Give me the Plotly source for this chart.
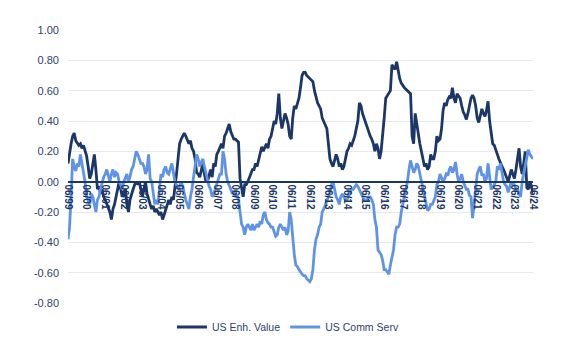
import plotly.graph_objects as go

# Monthly observations, June 1999 .. June 2024 (index 0..300)
enh_value = [
    0.12, 0.20, 0.25, 0.30, 0.32, 0.27, 0.25, 0.24, 0.25, 0.22, 0.24, 0.20,
    0.17, 0.10, 0.02, 0.05, 0.12, 0.18, 0.08, -0.05, -0.03, -0.08, -0.05, -0.10,
    -0.12, -0.15, -0.18, -0.20, -0.25, -0.18, -0.15, -0.10, -0.05, 0.00, -0.05, -0.10,
    -0.08, -0.05, -0.15, -0.20, -0.12, -0.08, -0.05, -0.02, 0.00, -0.02, 0.00, -0.05,
    -0.10, -0.05, 0.00, -0.08, -0.12, -0.15, -0.18, -0.16, -0.20, -0.18, -0.20, -0.22,
    -0.20, -0.25, -0.22, -0.18, -0.15, -0.12, -0.15, -0.10, -0.12, -0.05, 0.05, 0.15,
    0.25, 0.28, 0.30, 0.32, 0.30, 0.28, 0.25, 0.27, 0.22, 0.20, 0.15, 0.06,
    0.05, 0.03, 0.08, 0.12, 0.05, 0.00, 0.00, 0.05, 0.08, 0.03, 0.12, 0.10,
    0.18, 0.20, 0.22, 0.25, 0.22, 0.30, 0.32, 0.35, 0.38, 0.33, 0.30, 0.28,
    0.28, 0.27, 0.26, 0.02, -0.05, -0.10, -0.02, -0.02, 0.00, 0.03, 0.05, 0.08,
    0.08, 0.12, 0.10, 0.15, 0.20, 0.23, 0.20, 0.22, 0.25, 0.22, 0.28, 0.30,
    0.35, 0.40, 0.38, 0.45, 0.58, 0.42, 0.35, 0.40, 0.45, 0.42, 0.38, 0.30,
    0.28, 0.42, 0.50, 0.48, 0.52, 0.55, 0.62, 0.70, 0.72, 0.72, 0.70, 0.69,
    0.68, 0.67, 0.66, 0.60, 0.55, 0.52, 0.50, 0.48, 0.42, 0.40, 0.38, 0.35,
    0.25, 0.15, 0.12, 0.10, 0.14, 0.18, 0.15, 0.10, 0.12, 0.08, 0.10, 0.15,
    0.20, 0.22, 0.25, 0.24, 0.27, 0.30, 0.35, 0.40, 0.52, 0.50, 0.45, 0.42,
    0.38, 0.36, 0.32, 0.30, 0.28, 0.25, 0.20, 0.25, 0.22, 0.15, 0.20, 0.30,
    0.42, 0.55, 0.57, 0.58, 0.60, 0.77, 0.75, 0.74, 0.79, 0.72, 0.68, 0.65,
    0.63, 0.62, 0.61, 0.60, 0.59, 0.58, 0.30, 0.25, 0.45, 0.38, 0.30, 0.25,
    0.20, 0.15, 0.10, 0.12, 0.08, 0.10, 0.18, 0.15, 0.15, 0.20, 0.30, 0.27,
    0.28, 0.35, 0.47, 0.52, 0.50, 0.54, 0.56, 0.55, 0.62, 0.55, 0.52, 0.58,
    0.56, 0.55, 0.50, 0.46, 0.44, 0.41, 0.45, 0.50, 0.55, 0.57, 0.55, 0.50,
    0.42, 0.39, 0.44, 0.48, 0.45, 0.43, 0.47, 0.53, 0.40, 0.31, 0.25, 0.24,
    0.20, 0.18, 0.15, 0.12, 0.10, 0.08, 0.05, 0.03, 0.00, 0.04, 0.08, 0.05,
    0.02, 0.08, 0.15, 0.22, 0.10, 0.05, 0.12, 0.20, -0.04, -0.05, 0.00, -0.03,
    -0.08,
]

comm_serv = [
    -0.38, -0.30, -0.10, 0.15, 0.10, 0.07, 0.12, 0.10, 0.18, 0.12, 0.05, 0.00,
    -0.10, -0.12, -0.15, -0.08, -0.10, -0.15, -0.20, -0.12, -0.10, -0.05, 0.00, 0.03,
    0.05, 0.08, 0.04, 0.00, 0.05, 0.08, 0.03, 0.06, 0.05, 0.00, -0.02, -0.05,
    0.00, 0.03, 0.05, 0.00, 0.03, 0.08, 0.10, 0.15, 0.20, 0.18, 0.15, 0.12,
    0.12, 0.10, 0.05, 0.08, 0.18, 0.02, 0.00, -0.08, -0.15, -0.12, -0.15, -0.05,
    0.05, 0.03, 0.08, 0.10, 0.06, 0.05, 0.08, 0.12, 0.06, 0.00, -0.02, -0.05,
    -0.03, 0.00, -0.03, -0.08, -0.12, -0.15, -0.18, -0.10, -0.05, 0.03, 0.10, 0.18,
    0.15, 0.10, 0.13, 0.15, 0.10, 0.05, 0.02, -0.03, -0.05, -0.10, -0.08, -0.05,
    -0.02, 0.02, 0.05, 0.05, 0.20, 0.15, 0.05, 0.00, -0.02, -0.05, -0.08, -0.06,
    -0.10, -0.08, -0.12, -0.20, -0.28, -0.30, -0.35, -0.30, -0.28, -0.30, -0.32, -0.28,
    -0.32, -0.30, -0.28, -0.30, -0.26, -0.28, -0.22, -0.20, -0.25, -0.27, -0.28, -0.30,
    -0.30, -0.33, -0.36, -0.35, -0.30, -0.28, -0.30, -0.32, -0.30, -0.35, -0.33, -0.20,
    -0.25, -0.40, -0.48, -0.55, -0.56, -0.58, -0.60, -0.61, -0.62, -0.62, -0.64, -0.65,
    -0.66, -0.64, -0.58, -0.45, -0.38, -0.35, -0.30, -0.28, -0.20, -0.18, -0.15, -0.12,
    -0.10, -0.08, -0.02, 0.00, -0.05, -0.10, -0.12, -0.15, -0.10, -0.08, -0.10, -0.12,
    -0.12, -0.10, -0.08, -0.05, -0.05, -0.03, -0.02, -0.03, -0.05, -0.08, -0.10, -0.12,
    -0.12, -0.12, -0.10, -0.10, -0.12, -0.15, -0.25, -0.30, -0.45, -0.47, -0.48, -0.52,
    -0.58, -0.58, -0.60, -0.61, -0.55, -0.50, -0.45, -0.35, -0.30, -0.30, -0.28, -0.20,
    -0.15, -0.10, -0.05, 0.00, 0.08, 0.14, 0.10, 0.06, 0.08, 0.12, 0.10, 0.05,
    0.00, -0.05, -0.10, -0.15, -0.19, -0.18, -0.15, -0.15, -0.12, -0.10, -0.02, 0.00,
    0.05, 0.03, 0.00, 0.02, 0.05, 0.04, 0.08, 0.10, 0.06, 0.08, 0.13, 0.05,
    0.00, 0.02, 0.05, 0.00, -0.02, -0.05, -0.05, -0.09, -0.10, -0.24, -0.15, -0.05,
    0.05, 0.08, 0.10, 0.04, 0.05, 0.00, 0.02, 0.12, 0.02, -0.05, -0.04, -0.02,
    0.00, 0.10, 0.08, 0.12, 0.05, 0.00, -0.02, -0.03, -0.07, -0.03, 0.00, -0.02,
    -0.02, -0.05, -0.05, -0.08, -0.10, 0.00, 0.05, 0.12, 0.15, 0.21, 0.18, 0.16,
    0.15,
]

month_index = list(range(len(enh_value)))
tick_positions = list(range(0, 301, 12))
tick_labels = ["06/%02d" % ((99 + i) % 100) for i in range(26)]
y_ticks = [1.0, 0.8, 0.6, 0.4, 0.2, 0.0, -0.2, -0.4, -0.6, -0.8]
y_labels = ["%.2f" % v for v in y_ticks]

NAVY = "#1B3668"
LIGHT = "#5F93E8"
TEXT = "#2E4270"

fig = go.Figure()
fig.add_trace(go.Scatter(x=month_index, y=enh_value, mode="lines", name="US Enh. Value",
                         line=dict(color=NAVY, width=2.8)))
fig.add_trace(go.Scatter(x=month_index, y=comm_serv, mode="lines", name="US Comm Serv",
                         line=dict(color=LIGHT, width=2.8)))

fig.update_layout(
    width=574, height=362,
    margin=dict(l=60, r=49, t=22, b=67),
    paper_bgcolor="white", plot_bgcolor="white",
    font=dict(family="Liberation Sans, Arial, sans-serif", color=TEXT, size=11),
    showlegend=True,
    legend=dict(orientation="h", x=0.473, xanchor="center", y=-0.088, yanchor="middle",
                font=dict(size=10.5, color=TEXT), itemwidth=30, tracegroupgap=0),
    xaxis=dict(range=[0, 300], tickmode="array", tickvals=tick_positions, ticktext=tick_labels,
               tickangle=90, showgrid=False, zeroline=False,
               showline=True, linecolor=NAVY, linewidth=1.6,
               anchor="free", position=0.8 / 1.8,
               tickfont=dict(size=10, color=NAVY, weight="bold"), ticks=""),
    yaxis=dict(range=[-0.8, 1.0], tickmode="array", tickvals=y_ticks, ticktext=y_labels,
               showgrid=True, gridcolor="#E6E9EF", gridwidth=1, zeroline=False,
               showline=False, tickfont=dict(size=11, color=TEXT), ticks="", ticklabelstandoff=8),
)

fig.write_html("out.html")
